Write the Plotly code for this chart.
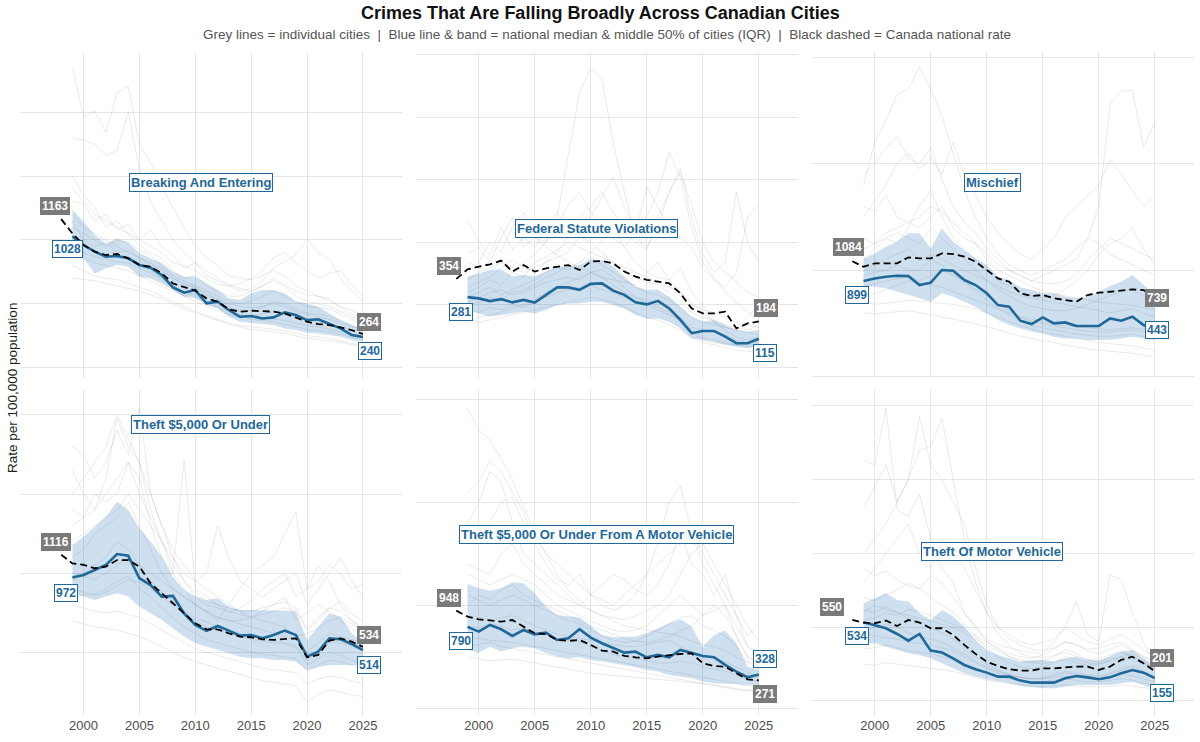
import plotly.graph_objects as go

# years covered by the city series and by the national series
years = list(range(1999, 2026))
nat_years = list(range(1998, 2026))

# --- Breaking And Entering ---
break_nat = [1163, 1051, 960, 908, 882, 890, 856, 804, 791, 739, 660, 629, 603, 543, 517, 457, 439, 446, 444, 439,
             425, 394, 360, 342, 334, 316, 295, 264]
break_med = [1028, 960, 908, 869, 874, 856, 804, 783, 725, 629, 587, 608, 504, 517, 452, 399, 405, 386, 394, 433,
             412, 373, 379, 342, 308, 256, 240]
break_q3 = [1239, 1143, 1038, 973, 1012, 978, 895, 856, 817, 751, 712, 712, 660, 608, 543, 530, 582, 608, 608, 582,
            517, 504, 478, 425, 373, 334, 295]
break_q1 = [947, 856, 738, 778, 804, 791, 712, 699, 660, 608, 556, 543, 491, 465, 399, 360, 352, 342, 334, 308,
            295, 274, 269, 256, 243, 217, 204]
break_cities = [
    [2355, 1960, 2010, 1840, 2150, 2200, 1750, 1600, 1420, 1250, 1100, 950, 860, 800, 720, 700, 690, 720, 760, 720, 640, 600, 560, 540, 470, 420, 380],
    [1800, 1780, 1750, 1660, 1700, 2000, 1550, 1300, 1150, 1000, 900, 820, 760, 700, 650, 620, 600, 640, 700, 650, 600, 570, 560, 520, 480, 450, 420],
    [1500, 1350, 1250, 1100, 1150, 1050, 1000, 1080, 950, 880, 780, 820, 720, 680, 640, 600, 620, 680, 780, 830, 880, 1010, 900, 850, 700, 600, 520],
    [1300, 1280, 1150, 1200, 1080, 1120, 1000, 950, 900, 820, 800, 760, 700, 650, 640, 660, 700, 760, 860, 900, 820, 760, 700, 740, 760, 650, 560],
    [1100, 1050, 1000, 950, 1000, 980, 920, 880, 800, 720, 680, 640, 600, 560, 520, 500, 520, 560, 600, 560, 520, 480, 470, 460, 420, 380, 340],
    [900, 860, 820, 800, 780, 760, 720, 680, 640, 600, 560, 520, 480, 450, 420, 400, 380, 370, 360, 340, 320, 300, 290, 280, 260, 240, 220],
    [800, 760, 720, 700, 690, 660, 630, 600, 560, 520, 480, 440, 410, 380, 350, 330, 320, 310, 300, 290, 270, 250, 240, 230, 210, 190, 170],
    [1000, 950, 900, 880, 860, 850, 800, 760, 700, 640, 600, 560, 520, 480, 440, 420, 400, 390, 380, 370, 350, 330, 320, 300, 280, 260, 240],
    [1200, 1100, 1050, 1000, 950, 900, 860, 820, 760, 700, 660, 620, 580, 540, 500, 480, 470, 480, 500, 480, 440, 420, 400, 380, 350, 320, 300],
    [700, 690, 680, 660, 640, 620, 600, 570, 540, 500, 460, 430, 400, 370, 340, 320, 300, 290, 280, 270, 250, 230, 220, 210, 200, 180, 160],
    [1150, 1000, 950, 980, 900, 920, 860, 800, 780, 700, 650, 640, 560, 540, 480, 440, 450, 470, 520, 500, 460, 430, 420, 400, 370, 330, 300],
    [950, 900, 870, 850, 830, 820, 780, 740, 700, 620, 560, 580, 500, 470, 420, 390, 400, 420, 440, 420, 400, 380, 360, 340, 300, 270, 250],
    [1400, 1300, 1200, 1150, 1100, 1050, 960, 900, 860, 760, 700, 720, 640, 600, 560, 560, 600, 640, 680, 640, 560, 520, 500, 480, 440, 400, 360],
]

# --- Federal Statute Violations ---
fed_nat = [354, 392, 403, 412, 427, 383, 409, 383, 396, 403, 409, 389, 423, 425, 416, 383, 363, 350, 343, 336,
           296, 236, 216, 216, 223, 156, 176, 184]
fed_med = [281, 276, 265, 273, 260, 270, 259, 290, 320, 320, 310, 334, 336, 307, 290, 260, 252, 266, 236, 190,
           137, 146, 146, 123, 97, 97, 115]
fed_q3 = [363, 376, 387, 392, 363, 370, 363, 383, 403, 403, 409, 432, 429, 403, 363, 323, 310, 310, 283, 243,
          203, 183, 190, 170, 150, 143, 150]
fed_q1 = [230, 216, 203, 210, 216, 223, 216, 230, 250, 256, 256, 263, 263, 250, 236, 210, 196, 196, 183, 156,
          117, 110, 103, 90, 83, 77, 83]
fed_cities = [
    [300, 320, 350, 330, 380, 420, 450, 500, 600, 850, 1100, 1195, 1150, 900, 700, 520, 480, 560, 700, 780, 650, 500, 420, 380, 340, 300, 280],
    [589, 500, 450, 560, 470, 520, 480, 550, 620, 560, 600, 640, 700, 620, 560, 500, 470, 600, 700, 795, 600, 450, 380, 420, 702, 500, 420],
    [450, 480, 420, 520, 600, 480, 520, 500, 560, 650, 700, 620, 580, 520, 480, 540, 720, 640, 560, 520, 480, 400, 350, 320, 380, 600, 650],
    [350, 380, 400, 420, 380, 360, 420, 440, 470, 500, 480, 460, 440, 420, 400, 380, 360, 340, 320, 300, 260, 220, 180, 160, 150, 200, 250],
    [280, 300, 320, 290, 310, 330, 350, 380, 400, 390, 420, 440, 410, 380, 350, 320, 300, 290, 270, 240, 200, 180, 170, 160, 150, 140, 130],
    [230, 220, 240, 230, 250, 240, 260, 280, 300, 310, 320, 330, 310, 300, 280, 260, 250, 230, 210, 190, 150, 120, 110, 100, 90, 85, 80],
    [200, 180, 190, 200, 210, 220, 230, 240, 250, 260, 270, 280, 270, 260, 240, 220, 200, 190, 170, 150, 120, 100, 90, 80, 70, 65, 60],
    [250, 260, 280, 270, 300, 310, 330, 360, 380, 400, 420, 460, 500, 560, 480, 420, 380, 360, 350, 400, 300, 250, 180, 150, 120, 110, 120],
    [380, 420, 500, 460, 560, 620, 520, 480, 450, 420, 400, 380, 360, 350, 340, 330, 380, 420, 350, 300, 250, 230, 220, 200, 180, 170, 160],
    [320, 340, 360, 400, 430, 400, 380, 420, 460, 520, 560, 600, 680, 760, 640, 560, 600, 700, 860, 760, 560, 420, 360, 300, 260, 220, 200],
    [260, 280, 300, 310, 290, 300, 320, 340, 350, 360, 350, 380, 360, 330, 300, 280, 270, 260, 240, 200, 160, 150, 140, 130, 110, 100, 105],
    [420, 400, 380, 420, 400, 380, 400, 420, 440, 460, 520, 500, 460, 420, 380, 360, 340, 330, 300, 260, 220, 200, 190, 170, 160, 150, 170],
    [180, 200, 210, 220, 240, 250, 270, 300, 320, 340, 360, 380, 390, 360, 320, 280, 260, 240, 220, 180, 140, 110, 100, 95, 90, 90, 95],
]

# --- Mischief ---
mis_nat = [1084, 1033, 1064, 1064, 1064, 1121, 1111, 1111, 1158, 1152, 1127, 1080, 1002, 923, 892, 783, 758, 767, 736, 720,
           704, 767, 789, 798, 808, 820, 814, 739]
mis_med = [899, 923, 939, 948, 945, 861, 883, 1002, 995, 908, 861, 783, 673, 657, 526, 495, 557, 501, 510, 476,
           476, 476, 548, 526, 564, 485, 443]
mis_q3 = [1111, 1158, 1221, 1268, 1346, 1346, 1205, 1393, 1268, 1190, 1111, 1049, 939, 908, 839, 814, 783, 783, 751, 736,
          751, 798, 851, 892, 955, 861, 783]
mis_q1 = [845, 845, 830, 798, 767, 736, 704, 783, 751, 704, 657, 595, 532, 485, 454, 423, 407, 376, 360, 360,
          344, 344, 344, 360, 376, 360, 344]
mis_cities = [
    [1800, 2200, 2400, 2650, 2700, 2911, 2700, 2450, 2100, 1750, 1500, 1300, 1150, 1050, 1000, 950, 1000, 1050, 1100, 1200, 1300, 1250, 1150, 1100, 1050, 1000, 950],
    [1900, 2000, 2150, 2250, 2050, 2000, 2150, 1850, 1600, 1450, 1350, 1200, 1100, 1000, 950, 900, 950, 1000, 1050, 1100, 1300, 1600, 2560, 2680, 2690, 2160, 2380],
    [1500, 1650, 1800, 2000, 2100, 1950, 2050, 1900, 2200, 1900, 1700, 1500, 1350, 1250, 1150, 1100, 1200, 1300, 1500, 1600, 1700, 1800, 2035, 1900, 1750, 1600, 1700],
    [1600, 1550, 1700, 1500, 1450, 1400, 1500, 1600, 1400, 1300, 1250, 1150, 1050, 1000, 950, 900, 880, 870, 900, 950, 1100, 1200, 1300, 1250, 1200, 1150, 1100],
    [1300, 1250, 1350, 1400, 1450, 1500, 1600, 1550, 1450, 1350, 1250, 1100, 1000, 950, 900, 850, 800, 780, 760, 740, 720, 700, 690, 680, 670, 650, 630],
    [700, 680, 690, 700, 720, 710, 700, 690, 680, 660, 640, 600, 560, 520, 480, 450, 420, 400, 380, 360, 340, 320, 310, 300, 290, 270, 250],
    [600, 590, 600, 610, 620, 600, 580, 560, 540, 520, 500, 470, 440, 410, 380, 360, 340, 320, 300, 280, 260, 250, 240, 230, 220, 200, 180],
    [1000, 1050, 1100, 1150, 1200, 1100, 1150, 1100, 1050, 1000, 950, 900, 850, 800, 760, 740, 720, 700, 680, 660, 640, 620, 600, 620, 640, 600, 560],
    [800, 780, 820, 860, 900, 880, 860, 840, 800, 760, 720, 680, 640, 600, 560, 540, 520, 500, 480, 470, 460, 450, 440, 450, 460, 440, 420],
    [1100, 1200, 1300, 1250, 1400, 1600, 1750, 1500, 1300, 1200, 1100, 1000, 900, 850, 800, 760, 740, 760, 820, 900, 1000, 1150, 1250, 1300, 1400, 1200, 1050],
    [950, 980, 1000, 1050, 1000, 1000, 1100, 1050, 950, 900, 820, 760, 680, 620, 560, 520, 500, 480, 460, 440, 430, 420, 420, 430, 440, 420, 400],
    [850, 870, 900, 920, 950, 900, 950, 1000, 950, 880, 800, 720, 640, 580, 520, 480, 460, 440, 420, 400, 390, 380, 380, 390, 400, 380, 360],
    [1200, 1250, 1300, 1350, 1300, 1250, 1400, 1300, 1200, 1100, 1000, 900, 820, 760, 700, 660, 640, 620, 620, 640, 680, 720, 760, 800, 820, 760, 700],
]

# --- Theft $5,000 Or Under ---
theft_nat = [1116, 1062, 1052, 1031, 1041, 1083, 1083, 1041, 936, 873, 810, 746, 683, 645, 645, 620, 599, 595, 582, 578,
             582, 588, 468, 483, 574, 588, 567, 534]
theft_med = [972, 989, 1020, 1052, 1121, 1111, 968, 925, 852, 856, 746, 673, 635, 666, 637, 605, 609, 588, 609, 637,
             609, 472, 504, 588, 582, 552, 514]
theft_q3 = [1178, 1231, 1294, 1357, 1452, 1399, 1284, 1199, 1105, 978, 894, 852, 831, 841, 788, 767, 767, 767, 767, 763,
            757, 578, 662, 746, 725, 620, 557]
theft_q1 = [873, 852, 831, 852, 873, 852, 788, 746, 704, 651, 599, 557, 536, 514, 493, 472, 462, 462, 451, 451,
            441, 388, 405, 420, 420, 420, 420]
theft_cities = [
    [1800, 1750, 1600, 1700, 1900, 1750, 2042, 1500, 1300, 1100, 950, 850, 800, 780, 760, 740, 720, 760, 800, 850, 700, 750, 800, 760, 700, 650, 600],
    [1650, 1500, 1400, 1600, 1979, 1800, 1700, 1400, 1200, 1000, 900, 800, 750, 700, 800, 900, 1000, 1050, 1100, 1250, 1389, 900, 1050, 950, 800, 700, 650],
    [1400, 1350, 1500, 1450, 1500, 1700, 1600, 1300, 1100, 1000, 1716, 900, 850, 800, 750, 780, 820, 900, 950, 1000, 850, 900, 950, 1050, 1000, 900, 929],
    [1200, 1250, 1300, 1350, 1400, 1500, 1400, 1300, 1200, 1100, 1000, 950, 900, 850, 800, 760, 720, 700, 680, 660, 600, 620, 650, 700, 720, 680, 640],
    [1000, 980, 960, 1000, 1050, 1100, 1050, 1000, 950, 900, 850, 800, 760, 720, 700, 680, 660, 640, 620, 600, 580, 500, 560, 620, 600, 580, 560],
    [800, 780, 760, 750, 760, 740, 720, 680, 640, 600, 560, 520, 500, 480, 460, 440, 420, 400, 390, 380, 370, 300, 330, 350, 340, 320, 300],
    [700, 680, 660, 650, 640, 620, 600, 570, 540, 500, 470, 440, 420, 400, 380, 360, 340, 320, 310, 300, 290, 188, 230, 260, 250, 230, 220],
    [900, 880, 860, 880, 920, 960, 940, 900, 850, 800, 760, 720, 690, 660, 640, 620, 600, 580, 570, 560, 540, 420, 460, 500, 480, 450, 420],
    [1100, 1150, 1250, 1300, 1350, 1450, 1300, 1150, 1000, 900, 850, 800, 760, 720, 700, 700, 720, 740, 760, 780, 760, 640, 700, 780, 820, 740, 700],
    [1500, 1600, 1700, 1800, 2000, 1850, 1700, 1500, 1300, 1150, 1050, 950, 1000, 1300, 1100, 950, 900, 850, 900, 950, 1000, 800, 900, 1000, 1100, 950, 850],
    [950, 1000, 1050, 1100, 1200, 1150, 1050, 950, 880, 820, 760, 700, 660, 640, 620, 600, 580, 570, 560, 550, 530, 450, 500, 560, 560, 540, 520],
    [1300, 1350, 1400, 1500, 1600, 1700, 1500, 1350, 1200, 1050, 950, 880, 820, 800, 780, 760, 760, 780, 800, 820, 780, 650, 720, 780, 760, 700, 650],
    [850, 860, 870, 900, 950, 980, 900, 850, 780, 720, 660, 620, 580, 560, 540, 520, 500, 490, 480, 470, 460, 380, 420, 450, 440, 420, 400],
]

# --- Theft $5,000 Or Under From A Motor Vehicle ---
tfmv_nat = [948, 890, 864, 851, 841, 857, 793, 728, 721, 663, 654, 663, 615, 560, 550, 508, 495, 485, 502, 518,
            527, 534, 437, 411, 404, 340, 281, 271]
tfmv_med = [790, 744, 809, 767, 702, 760, 718, 734, 663, 679, 767, 686, 631, 589, 540, 550, 495, 518, 495, 566,
            540, 508, 495, 421, 356, 301, 328]
tfmv_q3 = [1207, 1165, 1142, 1165, 1223, 1213, 1116, 987, 906, 890, 883, 793, 712, 689, 696, 696, 728, 776, 825, 864,
           793, 598, 712, 754, 631, 404, 372]
tfmv_q1 = [566, 540, 598, 550, 582, 598, 582, 534, 502, 485, 495, 469, 453, 437, 421, 398, 372, 356, 324, 307,
           291, 259, 243, 243, 236, 226, 226]
tfmv_cities = [
    [2912, 2700, 2605, 2427, 2217, 1950, 1700, 1500, 1300, 1150, 1050, 950, 900, 850, 800, 780, 760, 740, 720, 700, 650, 620, 600, 560, 500, 450, 420],
    [2087, 2200, 2400, 2300, 2100, 1900, 1600, 1400, 1250, 1200, 1300, 1100, 1000, 950, 1000, 1100, 1300, 1600, 2000, 2158, 1700, 1400, 1200, 1000, 700, 500, 450],
    [1600, 1700, 1800, 2000, 2050, 1800, 1650, 1500, 1400, 1300, 1200, 1100, 1050, 1000, 1100, 1200, 1300, 1400, 1500, 1600, 1700, 1500, 1300, 1100, 900, 700, 825],
    [1400, 1350, 1300, 1500, 1600, 1400, 1300, 1200, 1100, 1050, 1000, 950, 900, 880, 860, 900, 950, 1000, 1100, 1300, 1500, 1600, 1400, 1200, 1000, 800, 650],
    [1000, 1100, 1050, 1150, 1200, 1100, 1050, 1000, 950, 900, 850, 800, 760, 720, 680, 650, 640, 660, 700, 750, 800, 900, 1000, 900, 700, 500, 400],
    [700, 680, 660, 650, 640, 620, 600, 580, 560, 540, 520, 500, 480, 460, 440, 420, 400, 380, 360, 340, 320, 300, 280, 260, 240, 220, 200],
    [600, 620, 640, 600, 580, 560, 540, 520, 500, 480, 460, 440, 420, 400, 380, 360, 340, 320, 300, 280, 260, 240, 220, 200, 180, 170, 160],
    [500, 480, 460, 470, 480, 460, 440, 420, 400, 380, 360, 340, 330, 320, 310, 300, 290, 280, 270, 260, 250, 240, 230, 210, 190, 180, 170],
    [900, 880, 860, 880, 900, 850, 800, 760, 720, 700, 680, 660, 640, 620, 600, 600, 620, 640, 660, 600, 550, 520, 500, 450, 400, 350, 300],
    [1800, 2000, 2300, 2200, 1800, 1500, 1400, 1300, 1200, 1100, 1000, 1100, 1200, 1300, 1250, 1150, 1100, 1200, 1400, 1700, 1400, 1300, 1100, 1300, 900, 600, 500],
    [1100, 1050, 1000, 1050, 1100, 1050, 1000, 950, 900, 850, 820, 760, 700, 660, 640, 650, 700, 760, 820, 880, 900, 800, 760, 700, 600, 450, 380],
    [800, 780, 820, 800, 760, 780, 740, 720, 680, 660, 640, 600, 560, 520, 500, 480, 460, 440, 440, 460, 440, 400, 380, 360, 320, 280, 260],
    [1300, 1250, 1200, 1250, 1300, 1250, 1200, 1100, 1000, 950, 900, 850, 800, 760, 740, 760, 800, 900, 1000, 1100, 1000, 900, 950, 1000, 800, 600, 550],
]

# --- Theft Of Motor Vehicle ---
tmv_nat = [550, 531, 527, 545, 508, 549, 531, 493, 493, 447, 380, 319, 266, 237, 215, 206, 206, 221, 221, 228,
           233, 233, 210, 233, 278, 300, 255, 201]
tmv_med = [534, 515, 493, 454, 409, 454, 341, 328, 289, 244, 215, 192, 165, 165, 138, 124, 126, 124, 154, 169,
           160, 147, 160, 188, 210, 192, 155]
tmv_q3 = [662, 696, 730, 685, 674, 594, 549, 617, 572, 504, 413, 346, 312, 289, 266, 278, 278, 266, 289, 300,
          278, 278, 300, 334, 346, 289, 233]
tmv_q1 = [391, 391, 368, 346, 323, 312, 289, 255, 221, 188, 165, 147, 131, 120, 102, 93, 86, 86, 97, 109,
          109, 109, 109, 120, 131, 109, 86]
tmv_cities = [
    [1634, 1600, 1984, 1300, 1250, 1400, 1100, 900, 800, 600, 500, 400, 350, 300, 280, 260, 250, 270, 280, 260, 240, 250, 280, 300, 280, 250, 220],
    [1317, 1450, 1600, 1350, 1500, 1700, 1724, 1916, 1500, 1100, 800, 600, 450, 380, 320, 300, 290, 310, 330, 300, 280, 290, 310, 330, 300, 260, 230],
    [1000, 1100, 1200, 1350, 1500, 1928, 1600, 1500, 1350, 1200, 900, 650, 500, 420, 380, 350, 340, 360, 400, 380, 350, 360, 380, 400, 350, 300, 260],
    [700, 680, 720, 750, 800, 760, 850, 800, 700, 600, 500, 420, 380, 360, 340, 330, 320, 400, 500, 674, 450, 400, 854, 825, 600, 400, 250],
    [600, 650, 620, 600, 580, 560, 540, 520, 500, 460, 420, 380, 340, 300, 270, 260, 270, 300, 350, 320, 280, 260, 300, 340, 300, 260, 220],
    [450, 440, 430, 420, 400, 390, 380, 360, 340, 300, 260, 220, 190, 170, 160, 150, 150, 160, 170, 160, 150, 150, 170, 190, 170, 150, 130],
    [350, 360, 380, 360, 340, 330, 320, 300, 280, 250, 220, 190, 170, 150, 140, 130, 130, 140, 150, 140, 130, 130, 140, 150, 140, 120, 110],
    [550, 560, 600, 580, 620, 600, 580, 550, 520, 480, 440, 400, 360, 320, 300, 290, 310, 350, 400, 380, 340, 320, 350, 380, 340, 300, 260],
    [800, 900, 1000, 1100, 1200, 1000, 900, 1100, 1000, 900, 750, 600, 500, 450, 400, 380, 400, 420, 500, 450, 400, 380, 420, 450, 400, 350, 280],
    [250, 240, 260, 250, 240, 230, 220, 210, 200, 180, 160, 140, 130, 120, 110, 100, 100, 105, 110, 100, 95, 95, 100, 110, 100, 90, 80],
    [620, 600, 640, 600, 560, 540, 500, 460, 420, 360, 300, 250, 210, 180, 160, 150, 160, 180, 200, 190, 180, 170, 190, 220, 240, 200, 170],
    [480, 500, 520, 500, 460, 440, 420, 400, 360, 320, 270, 230, 200, 180, 160, 150, 150, 170, 190, 180, 170, 160, 180, 210, 230, 190, 160],
    [900, 850, 880, 820, 780, 760, 700, 650, 600, 520, 440, 360, 300, 260, 230, 220, 230, 260, 300, 280, 260, 250, 270, 300, 320, 280, 240],
]

panel_names = [
    "Breaking And Entering",
    "Federal Statute Violations",
    "Mischief",
    "Theft $5,000 Or Under",
    "Theft $5,000 Or Under From A Motor Vehicle",
    "Theft Of Motor Vehicle",
]

panels = [
    dict(nat=break_nat, med=break_med, q1=break_q1, q3=break_q3, cities=break_cities,
         yrange=[-80, 2470], dtick=500, title_y=1453,
         shifts=[(-6, 13), (-5, -13), (6, 12), (7, -14)]),
    dict(nat=fed_nat, med=fed_med, q1=fed_q1, q3=fed_q3, cities=fed_cities,
         yrange=[-42, 1260], dtick=250, title_y=557,
         shifts=[(-7, 13), (-7, -15), (7, 13), (6, -14)]),
    dict(nat=mis_nat, med=mis_med, q1=mis_q1, q3=mis_q3, cities=mis_cities,
         yrange=[-12, 3049], dtick=1000, title_y=1828,
         shifts=[(-4, 14), (-7, -14), (2, 0), (2, 0)]),
    dict(nat=theft_nat, med=theft_med, q1=theft_q1, q3=theft_q3, cities=theft_cities,
         yrange=[97, 2158], dtick=500, title_y=1937,
         shifts=[(-5, 13), (-6, -15), (6, 12), (6, -15)]),
    dict(nat=tfmv_nat, med=tfmv_med, q1=tfmv_q1, q3=tfmv_q3, cities=tfmv_cities,
         yrange=[-75, 3090], dtick=1000, title_y=1692,
         shifts=[(-7, 13), (-7, -14), (6, -14), (6, 15)]),
    dict(nat=tmv_nat, med=tmv_med, q1=tmv_q1, q3=tmv_q3, cities=tmv_cities,
         yrange=[-102, 2108], dtick=500, title_y=1010,
         shifts=[(-20, 13), (-7, -14), (7, 13), (7, -15)]),
]

BLUE = "#1f6898"
GREY_LABEL = "#7a7a7a"
FONT = "Liberation Sans, Arial, sans-serif"

W, H = 1200, 742


def px(x):
    return x / W


def py(y):
    return 1 - y / H


# panel placement in page pixels
col_px = [(21, 402), (416, 798), (812, 1194)]
row_px = [(52, 378), (390, 716)]

fig = go.Figure()
annotations = []

for i, (name, p) in enumerate(zip(panel_names, panels)):
    suffix = "" if i == 0 else str(i + 1)
    xa, ya = "x" + suffix, "y" + suffix

    for city in p["cities"]:
        fig.add_trace(go.Scatter(
            x=years, y=city, mode="lines", xaxis=xa, yaxis=ya,
            line=dict(color="rgba(160,160,160,0.32)", width=0.7),
            hoverinfo="skip", showlegend=False,
        ))

    # IQR band
    fig.add_trace(go.Scatter(
        x=years + years[::-1], y=p["q3"] + p["q1"][::-1],
        mode="lines", fill="toself", fillcolor="rgba(33,113,181,0.22)",
        line=dict(width=0), xaxis=xa, yaxis=ya,
        hoverinfo="skip", showlegend=False,
    ))
    fig.add_trace(go.Scatter(
        x=years, y=p["med"], mode="lines", xaxis=xa, yaxis=ya,
        line=dict(color=BLUE, width=2.6), showlegend=False,
    ))
    fig.add_trace(go.Scatter(
        x=nat_years, y=p["nat"], mode="lines", xaxis=xa, yaxis=ya,
        line=dict(color="black", width=1.8, dash="7px,4px"), showlegend=False,
    ))

    # facet title box
    annotations.append(dict(
        x=2010.5, y=p["title_y"], xref=xa, yref=ya, text=f"<b>{name}</b>",
        showarrow=False, font=dict(family=FONT, size=13, color=BLUE),
        bgcolor="white", bordercolor=BLUE, borderwidth=1, borderpad=1,
    ))

    # start / end value labels
    s = p["shifts"]
    value_labels = [
        (nat_years[0], p["nat"][0], s[0], "nat"),
        (years[0], p["med"][0], s[1], "med"),
        (nat_years[-1], p["nat"][-1], s[2], "nat"),
        (years[-1], p["med"][-1], s[3], "med"),
    ]
    for x, y, (dx, dy), kind in value_labels:
        if kind == "nat":
            style = dict(font=dict(family=FONT, size=12, color="white"),
                         bgcolor=GREY_LABEL, bordercolor=GREY_LABEL)
        else:
            style = dict(font=dict(family=FONT, size=12, color=BLUE),
                         bgcolor="white", bordercolor=BLUE)
        annotations.append(dict(
            x=x, y=y, xref=xa, yref=ya, text=f"<b>{y}</b>", showarrow=False,
            xshift=dx, yshift=dy, borderwidth=1, borderpad=1, **style,
        ))

    row, col = divmod(i, 3)
    x0, x1 = col_px[col]
    y0, y1 = row_px[row]
    fig.update_layout(**{
        "xaxis" + suffix: dict(
            domain=[px(x0), px(x1)], anchor=ya, range=[1994.4, 2028.5],
            tickvals=[2000, 2005, 2010, 2015, 2020, 2025],
            showticklabels=(row == 1), ticks="",
            tickfont=dict(family=FONT, size=13, color="#4d4d4d"),
            showgrid=True, gridcolor="#e6e6e6", gridwidth=1, zeroline=False,
            showline=False,
        ),
        "yaxis" + suffix: dict(
            domain=[py(y1), py(y0)], anchor=xa, range=p["yrange"],
            dtick=p["dtick"], tick0=0, showticklabels=False, ticks="",
            showgrid=True, gridcolor="#e6e6e6", gridwidth=1, zeroline=False,
            showline=False,
        ),
    })

sep = "\u00a0\u00a0|\u00a0\u00a0"
annotations += [
    dict(x=px(600), y=py(13), xref="paper", yref="paper", showarrow=False,
         xanchor="center", yanchor="middle",
         text="<b>Crimes That Are Falling Broadly Across Canadian Cities</b>",
         font=dict(family=FONT, size=18, color="#111111")),
    dict(x=px(607), y=py(34), xref="paper", yref="paper", showarrow=False,
         xanchor="center", yanchor="middle",
         text="Grey lines = individual cities" + sep
              + "Blue line & band = national median & middle 50% of cities (IQR)" + sep
              + "Black dashed = Canada national rate",
         font=dict(family=FONT, size=13.5, color="#555555")),
    dict(x=px(12), y=py(388), xref="paper", yref="paper", showarrow=False,
         xanchor="center", yanchor="middle",
         text="Rate per 100,000 population", textangle=-90,
         font=dict(family=FONT, size=13.5, color="#222222")),
]

fig.update_layout(
    width=W, height=H,
    margin=dict(l=0, r=0, t=0, b=0),
    paper_bgcolor="white", plot_bgcolor="white",
    showlegend=False,
    annotations=annotations,
    font=dict(family=FONT),
)

# drop the browser's default 8px page margin so the figure fills the window
fig.write_html("out.html", config={"displayModeBar": False},
               post_script="document.body.style.margin = '0';")
